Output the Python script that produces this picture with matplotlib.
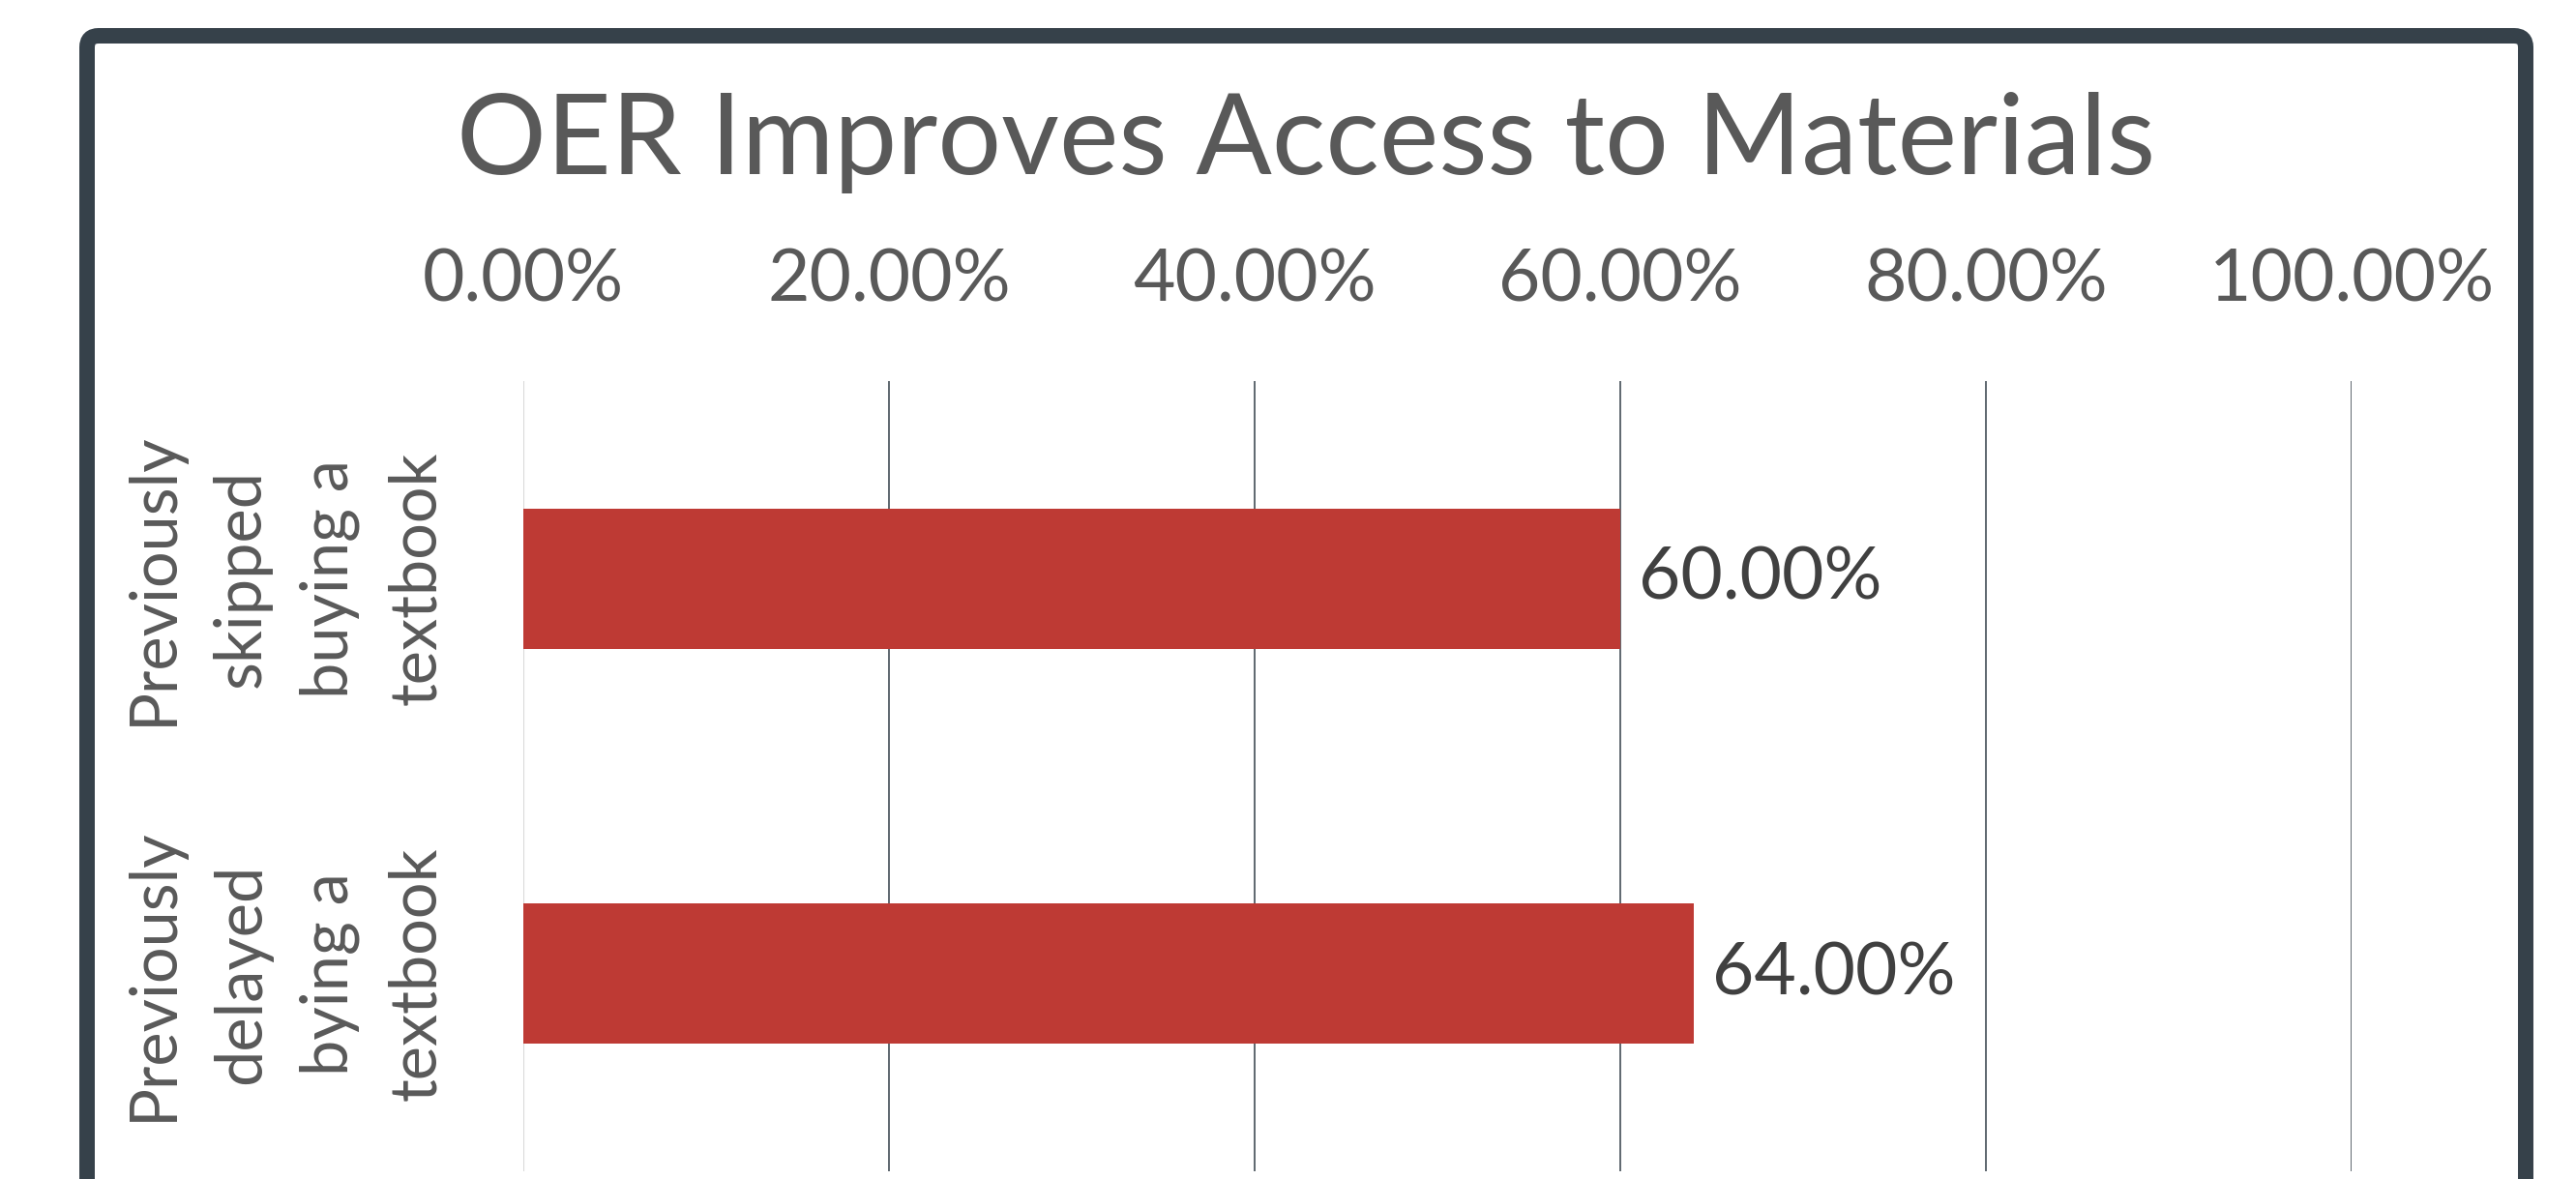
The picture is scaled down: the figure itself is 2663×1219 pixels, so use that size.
import matplotlib
matplotlib.use("Agg")
import matplotlib.pyplot as plt
from matplotlib.patches import FancyBboxPatch
from matplotlib.ticker import FuncFormatter
from matplotlib.transforms import blended_transform_factory

title = "OER Improves Access to Materials"
categories = ["Previously\nskipped\nbuying a\ntextbook", "Previously\ndelayed\nbying a\ntextbook"]
values = [0.60, 0.64]
xticks = [0.0, 0.2, 0.4, 0.6, 0.8, 1.0]

W, H, DPI = 2663, 1219, 100
fig = plt.figure(figsize=(W / DPI, H / DPI), dpi=DPI)
fig.patch.set_facecolor("white")

ax = fig.add_axes([541 / W, 1 - 1211 / H, (2431 - 541) / W, (1211 - 394) / H])
ax.set_facecolor("white")

ypos = list(range(len(categories)))
ax.barh(ypos, values, height=0.355, color="#BE3A34", zorder=3)
for y, v in zip(ypos, values):
    ax.annotate(f"{v*100:.2f}%", xy=(v, y), xytext=(14, 0), textcoords="offset points",
                ha="left", va="center", fontsize=54, family="Lato", color="#404040")

ax.set_xlim(0, 1)
ax.set_ylim(len(categories) - 0.5, -0.5)
ax.set_xticks(xticks)
ax.xaxis.set_major_formatter(FuncFormatter(lambda x, p: f"{x*100:.2f}%"))
ax.xaxis.tick_top()
ax.tick_params(axis="x", length=0, pad=50, labelsize=54, labelcolor="#595959")
for lab in ax.get_xticklabels():
    lab.set_family("Lato")
ax.grid(axis="x", color="#333F48", linewidth=1.1, zorder=0)
ax.grid(axis="y", visible=False)
gl = ax.get_xgridlines()
gl[0].set_color("#D9D9D9")
gl[0].set_linewidth(1.5)

ax.set_yticks(ypos)
ax.set_yticklabels([""] * len(categories))
ax.tick_params(axis="y", length=0)
trans = blended_transform_factory(ax.transAxes, ax.transData)
for y, cat in zip(ypos, categories):
    ax.text(-0.130, y, cat, transform=trans, rotation=90, ha="center", va="center",
            multialignment="center", fontsize=48, family="Lato", color="#595959",
            linespacing=1.57)

for s in ax.spines.values():
    s.set_visible(False)

fig.text(1350 / W, 1 - 180 / H, title, ha="center", va="baseline", fontsize=83.5,
         family="Lato", color="#595959")

border = FancyBboxPatch((0.90, -1.0), 26.11 - 0.90, 11.82 + 1.0,
                        boxstyle="round,pad=0,rounding_size=0.12",
                        transform=fig.dpi_scale_trans, fill=False,
                        edgecolor="#36414A", linewidth=11.5)
fig.add_artist(border)

fig.savefig("out.png", dpi=DPI, facecolor="white")
